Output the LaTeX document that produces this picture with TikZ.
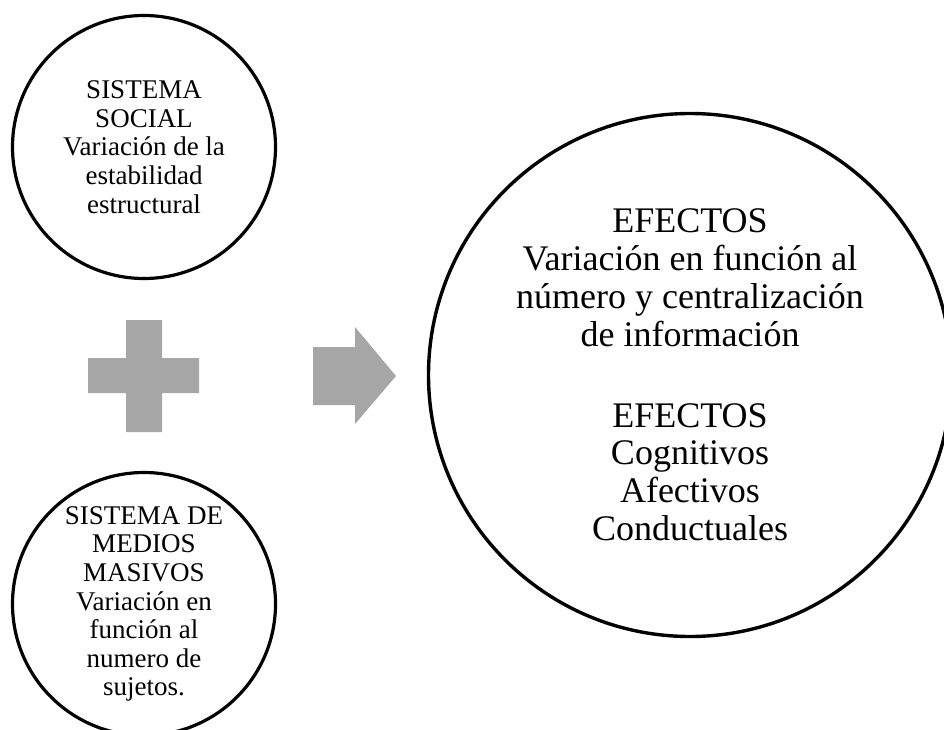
\documentclass[tikz,border=0pt]{standalone}
\usepackage{fontspec}
\setmainfont{Liberation Serif}
\usepackage{xcolor}
\usepackage{tikz}
\definecolor{shapegray}{RGB}{166,166,166}

\begin{document}
\begin{tikzpicture}[x=1pt,y=-1pt,
    smallcircle/.style={draw,circle,line width=3.2pt,inner sep=0pt,minimum size=263pt,align=center,font=\fontsize{27}{28.6}\selectfont},
    bigcircle/.style={draw,circle,line width=3.4pt,inner sep=0pt,minimum size=523pt,align=center,font=\fontsize{36}{37.8}\selectfont},
    symbolfill/.style={fill=shapegray}]
  \useasboundingbox (0,0) rectangle (944,730);
  \clip (0,0) rectangle (944,730);

  \draw (144,147) node[smallcircle](social)
    {SISTEMA\\SOCIAL\\Variación de la\\estabilidad\\estructural};
  \draw (144,604) node[smallcircle](medios)
    {SISTEMA DE\\MEDIOS\\MASIVOS\\Variación en\\función al\\numero de\\sujetos.};

  \draw (690,375) node[bigcircle](efectos)
    {EFECTOS\\Variación en función al\\número y centralización\\de información\\[43pt]
     EFECTOS\\Cognitivos\\Afectivos\\Conductuales};

  % plus sign
  \fill[symbolfill] (126,320) -- (162,320) -- (162,358) -- (199,358) -- (199,393)
    -- (162,393) -- (162,432) -- (126,432) -- (126,393) -- (88,393) -- (88,358)
    -- (126,358) -- cycle;

  % arrow
  \fill[symbolfill] (313,347) -- (355,347) -- (355,327) -- (396,376) -- (355,424)
    -- (355,405) -- (313,405) -- cycle;

\end{tikzpicture}
\end{document}
